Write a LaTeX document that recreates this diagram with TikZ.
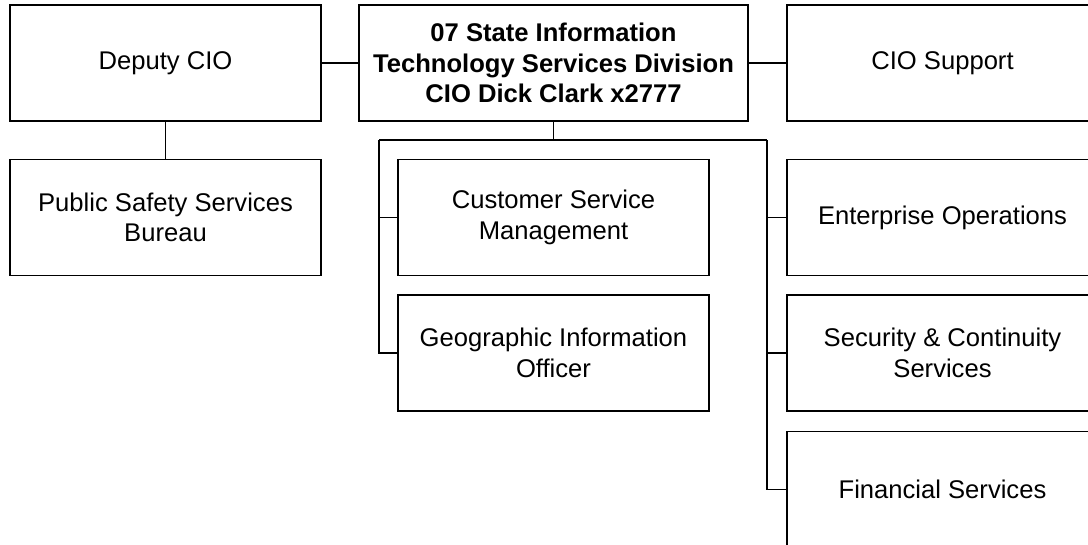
\documentclass[tikz,border=0pt]{standalone}
\usepackage{fontspec}
\setmainfont{Liberation Sans}
\usepackage{tikz}
\usetikzlibrary{positioning}
\tikzset {
  x=0.75pt, y=-0.75pt,
  % plain org box
  unit/.style = {draw, rectangle, line width=0.8pt, minimum width=311*0.75pt,
    minimum height=116*0.75pt, align=center, inner sep=0pt,
    font=\fontsize{19.2}{23}\selectfont},
  % head of the division
  head/.style = {unit, minimum width=389*0.75pt, font=\fontsize{19.2}{23}\selectfont\bfseries},
  % connectors
  link/.style = {line width=0.8pt},
}

\begin{document}
\begin{tikzpicture}
        \useasboundingbox (0,0) rectangle (1088,544);
        \clip (0,0) rectangle (1088,544);

        \node[unit] (deputy) at (165.5, 63) {Deputy CIO};
        \node[head] (cio) at (553.5, 63) {07 State Information\\Technology Services Division\\CIO Dick Clark x2777};
        \node[unit] (support) at (942.5, 63) {CIO Support};

        \node[unit] (safety) at (165.5, 217.5) {Public Safety Services\\Bureau};
        \node[unit] (custsvc) at (553.5, 217.5) {Customer Service\\Management};
        \node[unit] (entops) at (942.5, 217.5) {Enterprise Operations};

        \node[unit] (geo) at (553.5, 353) {Geographic Information\\Officer};
        \node[unit] (security) at (942.5, 353) {Security \& Continuity\\Services};

        \node[unit] (finance) at (942.5, 489.5) {Financial Services};

        % bus below the CIO
        \coordinate (lbus) at (379, 140);
        \coordinate (rbus) at (767, 140);

        \draw [link] (deputy) -- (cio);
        \draw [link] (cio) -- (support);
        \draw [link] (deputy) -- (safety);

        \draw [link] (cio) -- (cio.south |- lbus);
        \draw [link] (lbus) -- (rbus);

        \draw [link] (lbus |- custsvc) -- (custsvc);
        \draw [link] (lbus) |- (geo);

        \draw [link] (rbus |- entops) -- (entops);
        \draw [link] (rbus |- security) -- (security);
        \draw [link] (rbus) |- (finance);
      \end{tikzpicture}
\end{document}
